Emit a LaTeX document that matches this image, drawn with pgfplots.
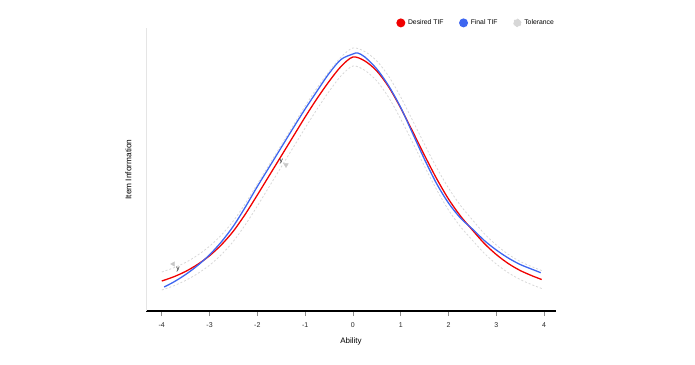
\documentclass[border=0pt]{standalone}
\usepackage{fontspec}
\setmainfont{Liberation Sans}
\usepackage{pgfplots}
\pgfplotsset{compat=1.18}
\definecolor{tifred}{RGB}{240,0,0}
\definecolor{tifblue}{RGB}{62,102,240}
\definecolor{tolgray}{RGB}{215,215,215}
\definecolor{ticklab}{RGB}{40,40,40}
\begin{document}
\begin{tikzpicture}[x=1pt,y=1pt]
\path[use as bounding box] (0,0) rectangle (695,364);
\begin{axis}[
  at={(146pt,53pt)}, anchor=south west,
  scale only axis, width=410pt, height=283pt,
  xmin=-4.33, xmax=4.25, ymin=0, ymax=283,
  axis x line*=bottom, axis y line*=left,
  x axis line style={-, black, line width=1.1pt},
  y axis line style={-, color=black!10, line width=0.6pt},
  xtick={-4,-3,-2,-1,0,1,2,3,4},
  ytick=\empty,
  tick align=outside,
  major tick length=5pt,
  x tick style={color=black!45, line width=0.6pt},
  xticklabel style={font=\fontsize{7}{8}\selectfont, text=ticklab, yshift=-3pt},
  /pgf/number format/assume math mode=true,
  xlabel={Ability},
  ylabel={Item Information},
  xlabel style={at={(axis description cs:0.5,-0.106)}, anchor=center, font=\fontsize{8}{9}\selectfont},
  ylabel style={at={(axis description cs:-0.0427,0.5)}, anchor=center, rotate=0, font=\fontsize{8.3}{9}\selectfont},
  legend columns=3,
  legend style={at={(1.0,1.018)}, anchor=east, draw=none, fill=none, inner sep=0pt,
    font=\fontsize{6.8}{8}\selectfont,
    /tikz/every odd column/.append style={column sep=0.8pt},
    /tikz/every even column/.append style={column sep=13.5pt}},
  clip=false,
]
\addplot[color=tifred, line width=1.3pt, smooth,
  legend image code/.code={\fill[tifred] (0pt,0pt) circle (3.8pt);}] coordinates {
(-4.00,30) (-3.75,34.2) (-3.50,39.6) (-3.25,46.6) (-3.00,55.3) (-2.75,66.3) (-2.50,80) (-2.25,97)
(-2.00,116) (-1.75,135.5) (-1.50,155) (-1.25,174.5) (-1.00,194) (-0.75,212.5) (-0.50,229.5) (-0.25,244.5)
(0.00,254) (0.25,250) (0.50,240) (0.75,224) (1.00,203) (1.25,179.5) (1.50,155.5) (1.75,132.5)
(2.00,112) (2.25,95) (2.50,81) (2.75,67.5) (3.00,56.5) (3.25,47.5) (3.50,40.5) (3.75,35.2) (3.95,31.5)
};
\addlegendentry{Desired TIF}
\addplot[color=tifblue, line width=1.3pt, smooth,
  legend image code/.code={\fill[tifblue] (0pt,0pt) circle (3.8pt);}] coordinates {
(-3.95,24) (-3.75,29) (-3.50,36.5) (-3.25,45.5) (-3.00,56.2) (-2.75,69.3) (-2.50,85) (-2.25,104)
(-2.00,124.5) (-1.75,144) (-1.50,163.5) (-1.25,183) (-1.00,202) (-0.75,220) (-0.50,237.5) (-0.25,251.5)
(0.00,257) (0.10,258) (0.25,254) (0.50,242) (0.75,225) (1.00,203.5) (1.25,177.5) (1.50,151.5) (1.75,127.5)
(2.00,108) (2.25,93) (2.50,82) (2.75,70.5) (3.00,61) (3.25,53) (3.50,46.5) (3.75,41.7) (3.93,38.3)
};
\addlegendentry{Final TIF}
\addplot[color=tolgray, line width=0.8pt, dash pattern=on 2pt off 2pt, smooth,
  legend image code/.code={\fill[tolgray] (0pt,0pt) circle (3.8pt);}] coordinates {
(-4.00,39) (-3.75,43.2) (-3.50,48.6) (-3.25,55.8) (-3.00,64.8) (-2.75,76.1) (-2.50,90.2) (-2.25,107.6)
(-2.00,127) (-1.75,146.5) (-1.50,166) (-1.25,185.5) (-1.00,205) (-0.75,223.1) (-0.50,239.5) (-0.25,253.9)
(0.00,263) (0.25,259.4) (0.50,250) (0.75,234.6) (1.00,214) (1.25,190.5) (1.50,166.5) (1.75,143.5)
(2.00,123) (2.25,105.6) (2.50,91.2) (2.75,77.3) (3.00,66) (3.25,56.7) (3.50,49.5) (3.75,44.2) (3.95,40.5)
};
\addlegendentry{Tolerance}
\addplot[color=tolgray, line width=0.8pt, dash pattern=on 2pt off 2pt, smooth, forget plot] coordinates {
(-4.00,21) (-3.75,25.2) (-3.50,30.6) (-3.25,37.4) (-3.00,45.8) (-2.75,56.5) (-2.50,69.8) (-2.25,86.4)
(-2.00,105) (-1.75,124.5) (-1.50,144) (-1.25,163.5) (-1.00,183) (-0.75,201.9) (-0.50,219.5) (-0.25,235.1)
(0.00,245) (0.25,240.6) (0.50,230) (0.75,213.4) (1.00,192) (1.25,168.5) (1.50,144.5) (1.75,121.5)
(2.00,101) (2.25,84.4) (2.50,70.8) (2.75,57.7) (3.00,47) (3.25,38.3) (3.50,31.5) (3.75,26.2) (3.95,22.5)
};
% small annotation markers
\addplot[only marks, forget plot, mark=triangle*, mark size=2.6pt, color=black!22,
  mark options={rotate=90}] coordinates {(-3.76,47)};
\addplot[only marks, forget plot, mark=triangle*, mark size=2.6pt, color=black!22,
  mark options={rotate=180}] coordinates {(-1.40,146)};
\node[font=\fontsize{6.5}{7}\selectfont, inner sep=0pt] at (axis cs:-3.66,42) {y};
\node[font=\fontsize{6.5}{7}\selectfont, inner sep=0pt] at (axis cs:-1.50,150) {y};
\end{axis}
\end{tikzpicture}
\end{document}
